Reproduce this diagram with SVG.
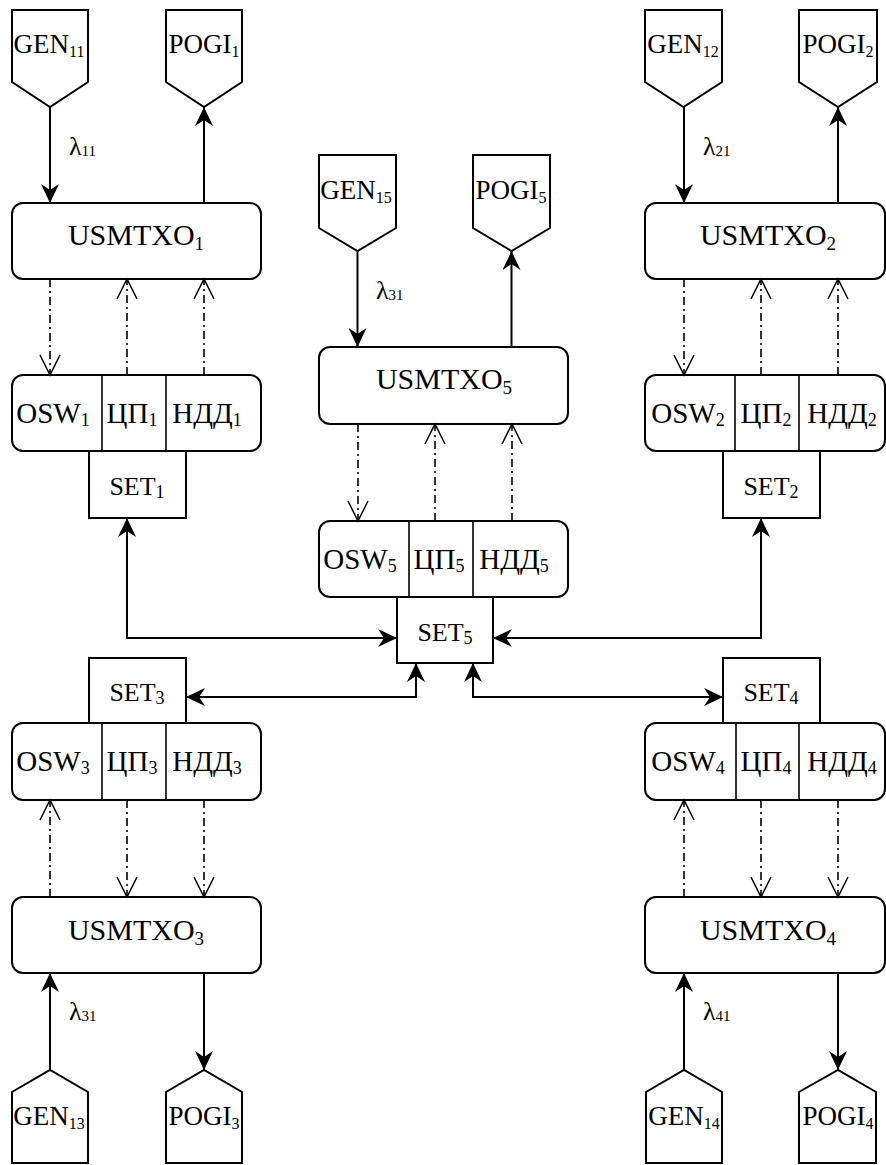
<svg xmlns="http://www.w3.org/2000/svg" width="886" height="1165" viewBox="0 0 886 1165">
<style>
.b{fill:#fff;stroke:#000;stroke-width:2}
.d{fill:none;stroke:#000;stroke-width:1.6}
.l{fill:none;stroke:#000;stroke-width:2}
.dd{fill:none;stroke:#000;stroke-width:1.6;stroke-dasharray:8 4 2 4}
text{font-family:"Liberation Serif","Times New Roman",serif;fill:#000;text-anchor:middle}
.g{font-size:27px}
.u{font-size:30px}
.o{font-size:29px}
.st{font-size:26px}
.lm{font-size:26px;text-anchor:start}
.s1{font-size:16px}
.s2{font-size:19px}
.s3{font-size:18px}
.s4{font-size:15px}
</style>
<defs>
<marker id="fa" viewBox="0 0 19 18" refX="19" refY="9" markerWidth="19" markerHeight="18" markerUnits="userSpaceOnUse" orient="auto-start-reverse"><path d="M0,0 L19,9 L0,18 L6,9 Z" fill="#000"/></marker>
<marker id="oa" viewBox="-1 -1 23 22" refX="20" refY="10" markerWidth="23" markerHeight="22" markerUnits="userSpaceOnUse" orient="auto"><path d="M0,0 L20,10 L0,20" fill="none" stroke="#000" stroke-width="1.5"/></marker>
</defs>

<g id="GEN11"><path class="b" d="M12,10 H88 V82 L50,107 L12,82 Z"/><text class="g" x="49" y="53">GEN<tspan class="s1" dy="4">11</tspan></text></g>
<g id="POGI1"><path class="b" d="M166,10 H242 V82 L204,107 L166,82 Z"/><text class="g" x="204" y="53">POGI<tspan class="s1" dy="4">1</tspan></text></g>
<g id="USMTXO1"><rect class="b" x="12" y="203" width="249" height="76" rx="11"/><text class="u" x="136" y="245">USMTXO<tspan class="s2" dy="5">1</tspan></text></g>
<g id="OSW1"><rect class="b" x="12" y="375" width="249" height="76" rx="11"/><path class="d" d="M102,375 V451 M166,375 V451"/>
<text class="o" x="53" y="423">OSW<tspan class="s3" dy="3">1</tspan></text><text class="o" x="132" y="423">ЦП<tspan class="s3" dy="3">1</tspan></text><text class="o" x="207" y="423">НДД<tspan class="s3" dy="3">1</tspan></text></g>
<g id="SET1"><rect class="b" x="89" y="451" width="97" height="67"/><text class="st" x="137" y="495">SET<tspan class="s3" dy="3">1</tspan></text></g>

<g id="GEN15"><path class="b" d="M319,155 H396 V228 L357.5,251 L319,228 Z"/><text class="g" x="356" y="199">GEN<tspan class="s1" dy="4">15</tspan></text></g>
<g id="POGI5"><path class="b" d="M473,155 H550 V228 L511.5,251 L473,228 Z"/><text class="g" x="511" y="199">POGI<tspan class="s1" dy="4">5</tspan></text></g>
<g id="USMTXO5"><rect class="b" x="319" y="347" width="249" height="77" rx="11"/><text class="u" x="444" y="389">USMTXO<tspan class="s2" dy="5">5</tspan></text></g>
<g id="OSW5"><rect class="b" x="319" y="521" width="249" height="76" rx="11"/><path class="d" d="M409,521 V597 M473,521 V597"/>
<text class="o" x="360" y="569">OSW<tspan class="s3" dy="3">5</tspan></text><text class="o" x="439" y="569">ЦП<tspan class="s3" dy="3">5</tspan></text><text class="o" x="514" y="569">НДД<tspan class="s3" dy="3">5</tspan></text></g>
<g id="SET5"><rect class="b" x="397" y="597" width="96" height="66"/><text class="st" x="445" y="641">SET<tspan class="s3" dy="3">5</tspan></text></g>

<g id="GEN12"><path class="b" d="M645,10 H722 V82 L683.5,107 L645,82 Z"/><text class="g" x="683" y="53">GEN<tspan class="s1" dy="4">12</tspan></text></g>
<g id="POGI2"><path class="b" d="M799,10 H877 V82 L838,107 L799,82 Z"/><text class="g" x="838" y="53">POGI<tspan class="s1" dy="4">2</tspan></text></g>
<g id="USMTXO2"><rect class="b" x="645" y="203" width="240" height="76" rx="11"/><text class="u" x="768" y="245">USMTXO<tspan class="s2" dy="5">2</tspan></text></g>
<g id="OSW2"><rect class="b" x="645" y="375" width="240" height="76" rx="11"/><path class="d" d="M735,375 V451 M799,375 V451"/>
<text class="o" x="688" y="423">OSW<tspan class="s3" dy="3">2</tspan></text><text class="o" x="766" y="423">ЦП<tspan class="s3" dy="3">2</tspan></text><text class="o" x="842" y="423">НДД<tspan class="s3" dy="3">2</tspan></text></g>
<g id="SET2"><rect class="b" x="723" y="451" width="97" height="67"/><text class="st" x="771" y="495">SET<tspan class="s3" dy="3">2</tspan></text></g>

<g id="SET3"><rect class="b" x="89" y="658" width="97" height="65"/><text class="st" x="137" y="701">SET<tspan class="s3" dy="3">3</tspan></text></g>
<g id="OSW3"><rect class="b" x="12" y="723" width="249" height="77" rx="11"/><path class="d" d="M102,723 V800 M166,723 V800"/>
<text class="o" x="53" y="771">OSW<tspan class="s3" dy="3">3</tspan></text><text class="o" x="132" y="771">ЦП<tspan class="s3" dy="3">3</tspan></text><text class="o" x="207" y="771">НДД<tspan class="s3" dy="3">3</tspan></text></g>
<g id="USMTXO3"><rect class="b" x="12" y="897" width="249" height="76" rx="11"/><text class="u" x="136" y="940">USMTXO<tspan class="s2" dy="5">3</tspan></text></g>
<g id="GEN13"><path class="b" d="M12,1163 V1092 L50,1070 L88,1092 V1163 Z"/><text class="g" x="49" y="1125">GEN<tspan class="s1" dy="4">13</tspan></text></g>
<g id="POGI3"><path class="b" d="M166,1163 V1092 L204,1070 L242,1092 V1163 Z"/><text class="g" x="204" y="1125">POGI<tspan class="s1" dy="4">3</tspan></text></g>

<g id="SET4"><rect class="b" x="723" y="658" width="97" height="65"/><text class="st" x="771" y="701">SET<tspan class="s3" dy="3">4</tspan></text></g>
<g id="OSW4"><rect class="b" x="645" y="723" width="240" height="77" rx="11"/><path class="d" d="M736,723 V800 M799,723 V800"/>
<text class="o" x="688" y="771">OSW<tspan class="s3" dy="3">4</tspan></text><text class="o" x="766" y="771">ЦП<tspan class="s3" dy="3">4</tspan></text><text class="o" x="842" y="771">НДД<tspan class="s3" dy="3">4</tspan></text></g>
<g id="USMTXO4"><rect class="b" x="645" y="897" width="240" height="76" rx="11"/><text class="u" x="768" y="940">USMTXO<tspan class="s2" dy="5">4</tspan></text></g>
<g id="GEN14"><path class="b" d="M646,1163 V1092 L684,1070 L722,1092 V1163 Z"/><text class="g" x="684" y="1125">GEN<tspan class="s1" dy="4">14</tspan></text></g>
<g id="POGI4"><path class="b" d="M799,1163 V1092 L838,1070 L876,1092 V1163 Z"/><text class="g" x="838" y="1125">POGI<tspan class="s1" dy="4">4</tspan></text></g>

<g id="connectors">
<g marker-end="url(#fa)" class="l">
<path d="M50,107 V203"/><path d="M204,203 V107"/>
<path d="M684,107 V203"/><path d="M838,203 V107"/>
<path d="M357.5,251 V347"/><path d="M511.5,347 V251"/>
<path d="M50,1070 V973"/><path d="M204,973 V1070"/>
<path d="M684,1070 V973"/><path d="M838,973 V1070"/>
</g>
<g marker-start="url(#fa)" marker-end="url(#fa)" class="l">
<path d="M127,518 V638 H397"/>
<path d="M761,518 V638 H493"/>
<path d="M416,663 V697 H186"/>
<path d="M473,663 V697 H723"/>
</g>
<g marker-end="url(#oa)" class="dd">
<path d="M50,279 V375"/><path d="M127,375 V279"/><path d="M204,375 V279"/>
<path d="M684,279 V375"/><path d="M761,375 V279"/><path d="M838,375 V279"/>
<path d="M358,424 V521"/><path d="M435,521 V424"/><path d="M512,521 V424"/>
<path d="M50,897 V800"/><path d="M127,800 V897"/><path d="M204,800 V897"/>
<path d="M684,897 V800"/><path d="M761,800 V897"/><path d="M838,800 V897"/>
</g>
<text class="lm" x="69" y="155">λ<tspan class="s4" dy="1">11</tspan></text>
<text class="lm" x="703" y="155">λ<tspan class="s4" dy="1">21</tspan></text>
<text class="lm" x="376" y="299">λ<tspan class="s4" dy="1">31</tspan></text>
<text class="lm" x="69" y="1020">λ<tspan class="s4" dy="1">31</tspan></text>
<text class="lm" x="703" y="1020">λ<tspan class="s4" dy="1">41</tspan></text>
</g>
</svg>
